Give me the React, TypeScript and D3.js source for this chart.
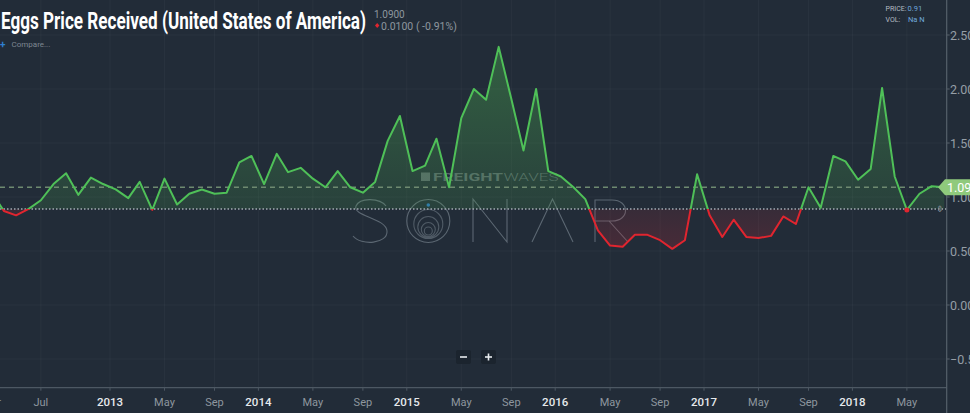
import React, { useMemo } from 'react';
import * as d3 from 'd3';

// monthly prices, $/dozen, one array per calendar year (2012 starts in March)
const firstMonth = new Date(2012, 2, 15);
const prices2012 = [1.05, 0.87, 0.83, 0.89, 0.97, 1.12, 1.22, 1.02, 1.18, 1.12];
const prices2013 = [1.07, 0.99, 1.14, 0.88, 1.17, 0.93, 1.03, 1.07, 1.03, 1.04, 1.32, 1.38];
const prices2014 = [1.12, 1.4, 1.23, 1.27, 1.17, 1.09, 1.24, 1.09, 1.04, 1.14, 1.52, 1.75];
const prices2015 = [1.24, 1.29, 1.54, 1.09, 1.73, 2.0, 1.9, 2.39, 1.91, 1.43, 2.0, 1.24];
const prices2016 = [1.19, 1.09, 0.98, 0.69, 0.55, 0.54, 0.65, 0.65, 0.6, 0.52, 0.6, 1.21];
const prices2017 = [0.83, 0.63, 0.79, 0.63, 0.62, 0.64, 0.82, 0.75, 1.09, 0.9, 1.38, 1.33];
const prices2018 = [1.16, 1.26, 2.01, 1.19, 0.88, 1.03, 1.1, 1.09];

const baselineValue = 0.89;
const lastValue = 1.09;
const hoverIndex = 74; // May 2018

const yTicks = [-0.5, 0, 0.5, 1, 1.5, 2, 2.5];
const xTickDates = [
  '2012-03-15', '2012-07-15', '2013-01-01', '2013-05-15', '2013-09-15',
  '2014-01-01', '2014-05-15', '2014-09-15', '2015-01-01', '2015-05-15',
  '2015-09-15', '2016-01-01', '2016-05-15', '2016-09-15', '2017-01-01',
  '2017-05-15', '2017-09-15', '2018-01-01', '2018-05-15',
];
const xTickLabels = [
  'Mar', 'Jul', '2013', 'May', 'Sep', '2014', 'May', 'Sep', '2015', 'May',
  'Sep', '2016', 'May', 'Sep', '2017', 'May', 'Sep', '2018', 'May',
];

type Datum = { date: Date; value: number };

const W = 970;
const H = 413;
const plotRight = 946.7;
const axisBottom = 387.7;
const bg = '#222c38';
const green = '#4fc058';
const red = '#e0252f';

const parseDate = (s: string) => {
  const [y, m, d] = s.split('-').map(Number);
  return new Date(y, m - 1, d);
};

const App: React.FC = () => {
  const data: Datum[] = useMemo(() => {
    const all = [
      ...prices2012, ...prices2013, ...prices2014, ...prices2015,
      ...prices2016, ...prices2017, ...prices2018,
    ];
    return all.map((value, i) => ({
      date: new Date(firstMonth.getFullYear(), firstMonth.getMonth() + i, 15),
      value,
    }));
  }, []);

  const x = d3
    .scaleTime()
    .domain([new Date(2013, 0, 1), new Date(2018, 0, 1)])
    .range([110, 852.4]);
  const y = d3.scaleLinear().domain([0, 1]).range([305, 197]);

  const yBase = y(baselineValue);
  const line = d3
    .line<Datum>()
    .x((d) => x(d.date))
    .y((d) => y(d.value));
  const area = d3
    .area<Datum>()
    .x((d) => x(d.date))
    .y0(yBase)
    .y1((d) => y(d.value));

  const linePath = line(data) || '';
  const areaPath = area(data) || '';
  const yMax = y(d3.max(data, (d) => d.value) || 2.5);
  const yMin = y(d3.min(data, (d) => d.value) || 0.5);
  const fmt = d3.format('.2f');
  const hover = data[hoverIndex];
  const tickDates = xTickDates.map(parseDate);

  return (
    <div style={{ position: 'fixed', left: 0, top: 0, width: W, height: H, background: bg }}>
      <svg width={W} height={H} style={{ display: 'block', fontFamily: 'Roboto, sans-serif' }}>
        <defs>
          <clipPath id="plot">
            <rect x={0} y={0} width={plotRight} height={axisBottom} />
          </clipPath>
          <clipPath id="above">
            <rect x={0} y={0} width={plotRight} height={yBase} />
          </clipPath>
          <clipPath id="below">
            <rect x={0} y={yBase} width={plotRight} height={axisBottom - yBase} />
          </clipPath>
          <linearGradient id="gUp" gradientUnits="userSpaceOnUse" x1={0} x2={0} y1={yMax} y2={yBase}>
            <stop offset="0%" stopColor="#4caf50" stopOpacity={0.4} />
            <stop offset="100%" stopColor="#4caf50" stopOpacity={0.16} />
          </linearGradient>
          <linearGradient id="gDown" gradientUnits="userSpaceOnUse" x1={0} x2={0} y1={yBase} y2={yMin}>
            <stop offset="0%" stopColor="#d02838" stopOpacity={0.12} />
            <stop offset="100%" stopColor="#d02838" stopOpacity={0.22} />
          </linearGradient>
        </defs>

        <rect width={W} height={H} fill={bg} />

        {/* grid */}
        <g stroke="#ffffff" strokeOpacity={0.035}>
          {tickDates.map((d, i) => (
            <line key={i} x1={x(d)} x2={x(d)} y1={0} y2={axisBottom} />
          ))}
          {yTicks.map((t) => (
            <line key={t} x1={0} x2={plotRight} y1={y(t)} y2={y(t)} />
          ))}
        </g>

        {/* SONAR watermark */}
        <g fill="none" stroke="#6f7b86" strokeWidth={1.1} strokeOpacity={0.75}>
          <path d="M386 206 C380 198,360 197,356 206 C352 216,386 218,387 231 C388 244,361 246,353 236" />
          <circle cx={428.3} cy={221} r={21.5} />
          <circle cx={428.3} cy={224} r={14.5} strokeOpacity={0.6} />
          <circle cx={428.3} cy={227} r={10.5} strokeOpacity={0.6} />
          <circle cx={428.3} cy={229.5} r={7} strokeOpacity={0.6} />
          <circle cx={428.3} cy={231} r={4} strokeOpacity={0.6} />
          <path d="M473 242 L473 199 L507 242 L507 199" />
          <path d="M532 242 L552.5 199 L573 242" />
          <path d="M595 242 L595 200 L612 200 C630 200,630 221,612 221 L595 221 M609 221 L628 242" />
        </g>
        <circle cx={428.3} cy={205} r={1.8} fill="#2b73b8" />
        <g opacity={0.45}>
          <rect x={421} y={172.5} width={9} height={8.5} fill="#9aa6a8" />
          <text x={433} y={180.8} fontSize={11.5} fontWeight={700} fill="#9aa6a8" textLength={70} lengthAdjust="spacingAndGlyphs">
            FREIGHT
          </text>
          <text x={503.5} y={180.8} fontSize={11.5} fontWeight={300} fill="#9aa6a8" textLength={55} lengthAdjust="spacingAndGlyphs">
            WAVES
          </text>
        </g>

        {/* area + line */}
        <g clipPath="url(#plot)">
          <path d={areaPath} fill="url(#gUp)" clipPath="url(#above)" />
          <path d={areaPath} fill="url(#gDown)" clipPath="url(#below)" />
        </g>

        <line x1={0} x2={plotRight} y1={y(lastValue)} y2={y(lastValue)} stroke="#6e8a70" strokeWidth={1.4} strokeDasharray="5 4" />
        <line x1={0} x2={plotRight} y1={yBase} y2={yBase} stroke="#a3abb3" strokeWidth={1.5} strokeDasharray="1.5 2" />

        <g clipPath="url(#plot)" fill="none" strokeWidth={2} strokeLinejoin="round">
          <path d={linePath} stroke={green} clipPath="url(#above)" />
          <path d={linePath} stroke={red} clipPath="url(#below)" />
        </g>
        <circle cx={x(hover.date)} cy={y(hover.value)} r={2.5} fill={red} />
        <text x={940} y={212} fontSize={9} fill="#7d8891" textAnchor="middle">⇕</text>

        {/* x axis */}
        <line x1={0} x2={plotRight} y1={axisBottom} y2={axisBottom} stroke="#4d5863" strokeWidth={1.2} />
        {tickDates.map((d, i) => {
          const isYear = /^\d{4}$/.test(xTickLabels[i]);
          return (
            <g key={i} transform={`translate(${x(d)},0)`}>
              <line y1={axisBottom} y2={axisBottom + 3} stroke="#4d5863" />
              <text
                y={406}
                textAnchor="middle"
                fontSize={isYear ? 11.5 : 11}
                fontWeight={isYear ? 500 : 400}
                fill={isYear ? '#e6e9ec' : '#8e979f'}
              >
                {xTickLabels[i]}
              </text>
            </g>
          );
        })}

        {/* y axis */}
        <line x1={plotRight} x2={plotRight} y1={0} y2={H} stroke="#56616b" strokeWidth={1.2} />
        {yTicks.map((t) => (
          <g key={t}>
            <line x1={plotRight} x2={plotRight + 3} y1={y(t)} y2={y(t)} stroke="#56616b" />
            <text x={950} y={y(t) + 4.5} fontSize={12.5} fill="#959ea6">
              {fmt(t)}
            </text>
          </g>
        ))}
        <path
          d={`M938 ${y(lastValue)} L945 ${y(lastValue) - 8} L970 ${y(lastValue) - 8} L970 ${y(lastValue) + 8} L945 ${y(lastValue) + 8} Z`}
          fill="#8fca7c"
        />
        <text x={947} y={y(lastValue) + 4.5} fontSize={12.5} fill="#ffffff">
          {fmt(lastValue)}
        </text>

        {/* header */}
        <text x={1} y={28.5} fontSize={23} fontWeight={700} fill="#ffffff" textLength={365} lengthAdjust="spacingAndGlyphs">
          Eggs Price Received (United States of America)
        </text>
        <text x={374} y={17.5} fontSize={10} fill="#8e979f">1.0900</text>
        <path d="M375 25.5 L377.2 23 L379.4 25.5 L377.2 28 Z" fill={red} />
        <text x={381} y={29.5} fontSize={10.5} fill="#8e979f">0.0100 ( -0.91%)</text>
        <text x={0} y={47.5} fontSize={10} fontWeight={700} fill="#2f7fd0">+</text>
        <text x={11.5} y={47} fontSize={8} fill="#7d8791">Compare...</text>

        <text x={885.5} y={10.5} fontSize={7} fill="#b5bcc3">PRICE:</text>
        <text x={907.5} y={10.5} fontSize={7.5} fill="#6fa8dc">0.91</text>
        <text x={885.5} y={22} fontSize={7} fill="#b5bcc3">VOL:</text>
        <text x={908} y={22} fontSize={7.5} fill="#6fa8dc">Na N</text>

        {/* zoom controls */}
        <g>
          <rect x={456} y={350} width={15} height={14} rx={2} fill="#1b242e" />
          <rect x={481} y={350} width={15} height={14} rx={2} fill="#1b242e" />
          <line x1={460} x2={467} y1={357} y2={357} stroke="#e8ebee" strokeWidth={1.6} />
          <line x1={485} x2={492} y1={357} y2={357} stroke="#e8ebee" strokeWidth={1.6} />
          <line x1={488.5} x2={488.5} y1={353.5} y2={360.5} stroke="#e8ebee" strokeWidth={1.6} />
        </g>
      </svg>
    </div>
  );
};

export default App;
